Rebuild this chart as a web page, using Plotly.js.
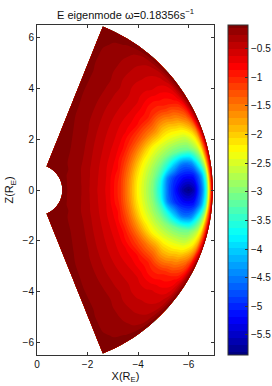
<!DOCTYPE html>
<html>
<head>
<meta charset="utf-8">
<script src="https://cdn.plot.ly/plotly-3.0.1.min.js"></script>
<style>html,body{margin:0;padding:0;background:#fff;}#chart{width:272px;height:386px;}</style>
</head>
<body>
<div id="chart"></div>
<script>
// latitude of grid columns (degrees) and radius of grid rows (R_E)
var thetaDeg = [-68,-59,-50,-41,-33,-26,-20,-15,-10,-5,0,5,10,15,20,26,33,41,50,59,68];
var radius = [1.0,1.6,2.2,2.8,3.3,3.7,4.0,4.3,4.6,4.9,5.2,5.5,5.8,6.0,6.2,6.4,6.55,6.7,6.8,6.88,6.95];
// E eigenmode field values, one row per radius, one column per latitude
var eField = [
[-0.10,-0.10,-0.11,-0.11,-0.11,-0.12,-0.12,-0.12,-0.12,-0.12,-0.12,-0.12,-0.12,-0.12,-0.12,-0.12,-0.11,-0.11,-0.11,-0.10,-0.10],
[-0.11,-0.11,-0.12,-0.15,-0.16,-0.18,-0.19,-0.20,-0.21,-0.21,-0.21,-0.21,-0.21,-0.20,-0.19,-0.18,-0.16,-0.15,-0.12,-0.11,-0.11],
[-0.11,-0.12,-0.16,-0.20,-0.28,-0.34,-0.38,-0.40,-0.42,-0.43,-0.44,-0.43,-0.42,-0.40,-0.38,-0.34,-0.28,-0.20,-0.16,-0.12,-0.11],
[-0.11,-0.15,-0.21,-0.34,-0.44,-0.51,-0.57,-0.61,-0.64,-0.66,-0.67,-0.66,-0.64,-0.61,-0.57,-0.51,-0.44,-0.34,-0.21,-0.15,-0.11],
[-0.12,-0.17,-0.29,-0.44,-0.55,-0.66,-0.77,-0.86,-0.99,-1.07,-1.09,-1.07,-0.99,-0.86,-0.77,-0.66,-0.55,-0.44,-0.29,-0.17,-0.12],
[-0.12,-0.18,-0.34,-0.50,-0.64,-0.81,-1.09,-1.33,-1.54,-1.69,-1.74,-1.69,-1.54,-1.33,-1.09,-0.81,-0.64,-0.50,-0.34,-0.18,-0.12],
[-0.12,-0.19,-0.37,-0.54,-0.71,-1.01,-1.40,-1.74,-2.04,-2.22,-2.28,-2.22,-2.04,-1.74,-1.40,-1.01,-0.71,-0.54,-0.37,-0.19,-0.12],
[-0.12,-0.20,-0.39,-0.57,-0.78,-1.20,-1.72,-2.16,-2.44,-2.60,-2.65,-2.60,-2.44,-2.16,-1.72,-1.20,-0.78,-0.57,-0.39,-0.20,-0.12],
[-0.12,-0.20,-0.40,-0.59,-0.83,-1.39,-2.04,-2.46,-2.76,-2.96,-3.06,-2.96,-2.76,-2.46,-2.04,-1.39,-0.83,-0.59,-0.40,-0.20,-0.12],
[-0.12,-0.20,-0.41,-0.60,-0.92,-1.55,-2.30,-2.71,-3.10,-3.53,-3.73,-3.53,-3.10,-2.71,-2.30,-1.55,-0.92,-0.60,-0.41,-0.20,-0.12],
[-0.12,-0.20,-0.41,-0.62,-0.97,-1.67,-2.44,-2.91,-3.56,-4.53,-4.68,-4.53,-3.56,-2.91,-2.44,-1.67,-0.97,-0.62,-0.41,-0.20,-0.12],
[-0.12,-0.22,-0.44,-0.66,-1.08,-1.87,-2.53,-3.08,-4.09,-4.97,-5.18,-4.97,-4.09,-3.08,-2.53,-1.87,-1.08,-0.66,-0.44,-0.22,-0.12],
[-0.12,-0.22,-0.44,-0.66,-1.09,-1.89,-2.56,-3.17,-4.52,-5.18,-5.70,-5.18,-4.52,-3.17,-2.56,-1.89,-1.09,-0.66,-0.44,-0.22,-0.12],
[-0.12,-0.22,-0.43,-0.63,-1.02,-1.80,-2.56,-3.17,-4.54,-5.21,-5.83,-5.21,-4.54,-3.17,-2.56,-1.80,-1.02,-0.63,-0.43,-0.22,-0.12],
[-0.12,-0.21,-0.42,-0.62,-0.99,-1.74,-2.52,-3.10,-4.36,-5.15,-5.62,-5.15,-4.36,-3.10,-2.52,-1.74,-0.99,-0.62,-0.42,-0.21,-0.12],
[-0.11,-0.19,-0.39,-0.59,-0.91,-1.56,-2.32,-2.84,-3.78,-4.72,-4.94,-4.72,-3.78,-2.84,-2.32,-1.56,-0.91,-0.59,-0.39,-0.19,-0.11],
[-0.10,-0.18,-0.36,-0.54,-0.83,-1.40,-2.09,-2.56,-3.27,-4.17,-4.43,-4.17,-3.27,-2.56,-2.09,-1.40,-0.83,-0.54,-0.36,-0.18,-0.10],
[-0.08,-0.14,-0.30,-0.44,-0.65,-1.10,-1.69,-2.05,-2.53,-3.30,-3.50,-3.30,-2.53,-2.05,-1.69,-1.10,-0.65,-0.44,-0.30,-0.14,-0.08],
[-0.06,-0.10,-0.20,-0.30,-0.42,-0.72,-1.12,-1.37,-1.65,-2.10,-2.31,-2.10,-1.65,-1.37,-1.12,-0.72,-0.42,-0.30,-0.20,-0.10,-0.06],
[-0.03,-0.06,-0.12,-0.17,-0.25,-0.42,-0.65,-0.81,-0.96,-1.14,-1.30,-1.14,-0.96,-0.81,-0.65,-0.42,-0.25,-0.17,-0.12,-0.06,-0.03],
[-0.01,-0.01,-0.01,-0.02,-0.02,-0.04,-0.07,-0.08,-0.09,-0.11,-0.12,-0.11,-0.09,-0.08,-0.07,-0.04,-0.02,-0.02,-0.01,-0.01,-0.01]
];
var xTicks = [0,-2,-4,-6];
var yTicks = [-6,-4,-2,0,2,4,6];
var colorTicks = [-5.5,-5,-4.5,-4,-3.5,-3,-2.5,-2,-1.5,-1,-0.5];
var zMin = -5.85, zMax = -0.09;

// carpet grid geometry (polar -> X,Z plane, X negative)
var gx = [], gy = [];
for (var j = 0; j < radius.length; j++) {
  var rx = [], ry = [];
  for (var i = 0; i < thetaDeg.length; i++) {
    var t = thetaDeg[i] * Math.PI / 180;
    rx.push(-radius[j] * Math.cos(t));
    ry.push(radius[j] * Math.sin(t));
  }
  gx.push(rx); gy.push(ry);
}

var jet = [[0,'#000080'],[0.111,'#0000ff'],[0.365,'#00ffff'],[0.619,'#ffff00'],[0.873,'#ff0000'],[1,'#800000']];
var font = 'Liberation Sans, Arial, Helvetica, sans-serif';
var hiddenAxis = {showgrid:false, showline:false, showticklabels:'none', startline:false, endline:false,
  minorgridcount:0, gridwidth:0, linewidth:0, title:{text:''}};

var traces = [
  {type:'carpet', carpet:'c1', a:thetaDeg, b:radius, x:gx, y:gy,
   aaxis:hiddenAxis, baxis:hiddenAxis, hoverinfo:'skip'},
  {type:'contourcarpet', carpet:'c1', a:thetaDeg, b:radius, z:eField,
   autocontour:false, contours:{start:-5.79, end:-0.15, size:0.12, coloring:'fill', showlines:false},
   line:{width:0}, colorscale:jet, zauto:false, zmin:zMin, zmax:zMax,
   colorbar:{xref:'container', x:228/272, xanchor:'left', thickness:20, thicknessmode:'pixels',
     len:1, lenmode:'fraction', y:0.5, yanchor:'middle', xpad:0, ypad:0,
     outlinewidth:1, outlinecolor:'#333', tickvals:colorTicks, ticks:'inside', ticklen:3,
     tickcolor:'#333', tickfont:{family:font, size:10, color:'#111'}}}
];

var layout = {
  width:272, height:386, margin:{l:37, r:58, t:25, b:31},
  paper_bgcolor:'#fff', plot_bgcolor:'#fff', showlegend:false,
  font:{family:font, size:10, color:'#111'},
  title:{text:'E eigenmode ω=0.18356s<sup>−1</sup>', font:{family:font, size:11, color:'#111'},
    x:0.5, xref:'paper', xanchor:'center', y:1-15/386, yref:'container', yanchor:'middle'},
  xaxis:{range:[0,-7], tickvals:xTicks, ticks:'inside', ticklen:3, tickcolor:'#333',
    showline:true, linecolor:'#333', linewidth:1, mirror:'ticks', showgrid:false, zeroline:false,
    tickfont:{family:font, size:10, color:'#111'},
    title:{text:'X(R<sub>E</sub>)', font:{family:font, size:11, color:'#111'}, standoff:2}},
  yaxis:{range:[-6.5,6.5], tickvals:yTicks, ticks:'inside', ticklen:3, tickcolor:'#333',
    showline:true, linecolor:'#333', linewidth:1, mirror:'ticks', showgrid:false, zeroline:false,
    tickfont:{family:font, size:10, color:'#111'},
    title:{text:'Z(R<sub>E</sub>)', font:{family:font, size:11, color:'#111'}, standoff:6}}
};

Plotly.newPlot('chart', traces, layout, {displayModeBar:false, staticPlot:true});
</script>
</body>
</html>
